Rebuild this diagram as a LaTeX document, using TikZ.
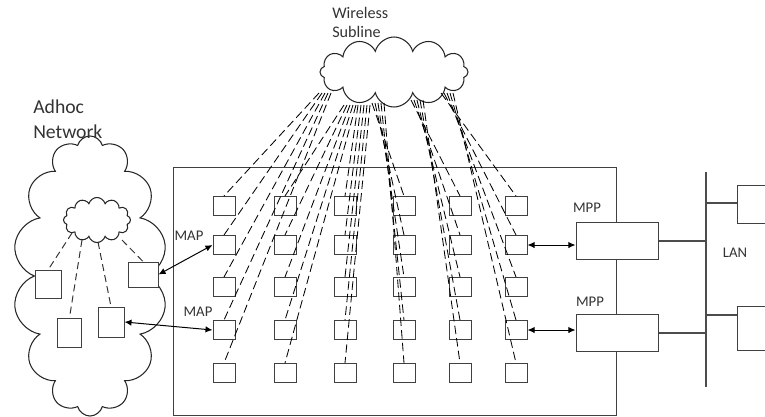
\documentclass[tikz,border=0pt]{standalone}
\usepackage{fontspec}
\setmainfont{Carlito}
\usetikzlibrary{shapes.symbols,positioning,arrows.meta}

\tikzset{
  frame/.style={draw=black!75, line width=0.7pt, inner sep=0pt},
  meshbox/.style={frame, minimum width=0.55cm, minimum height=0.475cm},
  hostbox/.style={frame, fill=white, minimum width=0.65cm, minimum height=0.7cm},
  gatebox/.style={frame, fill=white, minimum width=2.05cm, minimum height=0.925cm},
  netcloud/.style={draw=black!85, line width=0.75pt, cloud, cloud ignores aspect, inner sep=0pt},
  wave/.style={draw=black, line width=0.6pt, dash pattern=on 6pt off 3pt},
  hop/.style={draw=black!80, line width=0.7pt, dash pattern=on 5pt off 3pt},
  wire/.style={draw=black!70, line width=0.8pt},
  link/.style={draw=black, line width=0.7pt, {Latex[length=5pt,width=4.5pt]}-{Latex[length=5pt,width=4.5pt]}},
  tag/.style={text=black!80, font=\fontsize{10.5}{12}\selectfont, inner sep=0pt}
}

\begin{document}
\begin{tikzpicture}[x=0.025cm, y=-0.025cm]
\useasboundingbox (0,0) rectangle (765,416);
\clip (0,0) rectangle (765,416);

% ── Mesh area and its router grid ────────────────────────────
\node[frame, minimum width=11.05cm, minimum height=6.175cm] (mesh) at (395,291.5) {};

\foreach \c/\cx in {1/224, 2/285, 3/345, 4/404, 5/460, 6/516}
  \foreach \r/\ry in {1/206, 2/245, 3/287, 4/330, 5/373}
    \node[meshbox] (g-\c-\r) at (\cx,\ry) {};

% ── Wireless subline cloud and its links ─────────────────────
\node[netcloud, cloud puffs=12, minimum width=3.7cm, minimum height=1.75cm] (sky) at (394,72) {};
\node[anchor=north west, align=left, inner sep=0pt, text=black!80,
      font=\fontsize{11.5}{13.5}\selectfont] (skylbl) at (332,7) {Wireless\\Subline};

\foreach \c/\ox/\oy in {1/325/93, 2/350/105, 3/364/105, 4/378/103, 5/417/100, 6/447/93}
  \foreach \r in {1,...,5} {
    \coordinate (src-\c-\r) at ({\ox+(\r-3)*3},\oy);
    \draw[wave] (src-\c-\r) -- (g-\c-\r.north);
  }

% ── Adhoc network ────────────────────────────────────────────
\node[netcloud, cloud puffs=14, minimum width=3.85cm, minimum height=7.0cm] (adhoc) at (90,276) {};
\node[anchor=north west, align=left, inner sep=0pt, text=black!80,
      font=\fontsize{14}{17.5}\selectfont] (adhoclbl) at (33,100) {Adhoc\\Network};

\node[netcloud, cloud puffs=12, minimum width=1.675cm, minimum height=1.125cm] (core) at (97,220) {};

\node[hostbox] (ha) at (48,284.5) {};
\node[hostbox, minimum width=0.75cm, minimum height=0.625cm] (hb) at (143,274.5) {};
\node[hostbox, minimum width=0.6cm, minimum height=0.725cm] (hc) at (69.5,332.5) {};
\node[hostbox, minimum width=0.65cm, minimum height=0.75cm] (hd) at (111,322) {};

\coordinate (cp1) at (72,233);
\coordinate (cp2) at (82,240);
\coordinate (cp3) at (98,242);
\coordinate (cp4) at (122,240);
\draw[hop] (cp1) -- (ha.north);
\draw[hop] (cp2) -- (hc.north);
\draw[hop] (cp3) -- (hd.north);
\draw[hop] (cp4) -- (hb.north);

% ── Mesh access points ───────────────────────────────────────
\draw[link] (hb.east) -- (g-1-2.west);
\draw[link] (hd.east) -- (g-1-4.west);
\node[tag] (map1) at (189,236) {MAP};
\node[tag] (map2) at (198,312) {MAP};

% ── Portals and LAN ──────────────────────────────────────────
\node[gatebox] (mpp1) at (617,241) {};
\node[gatebox] (mpp2) at (617,333) {};
\node[tag] (mpp1lbl) at (587,208) {MPP};
\node[tag] (mpp2lbl) at (590,302) {MPP};

\draw[link] (g-6-2.east) -- (g-6-2.east -| mpp1.west);
\draw[link] (g-6-4.east) -- (g-6-4.east -| mpp2.west);

\coordinate (bus-top) at (706,172);
\coordinate (bus-bot) at (706,387);
\draw[wire] (bus-top) -- (bus-bot);
\node[tag] (lanlbl) at (735,253) {LAN};

\node[frame, minimum width=1.6cm, minimum height=0.95cm] (lan1) at (769,204) {};
\node[frame, minimum width=1.6cm, minimum height=1.1cm] (lan2) at (769,328) {};

\coordinate (tap1) at (706,203);
\coordinate (tap2) at (706,315);
\draw[wire] (tap1) -- (tap1 -| lan1.west);
\draw[wire] (tap2) -- (tap2 -| lan2.west);
\draw[wire] (mpp1.east) -- (mpp1.east -| bus-top);
\draw[wire] (mpp2.east) -- (mpp2.east -| bus-top);

\end{tikzpicture}
\end{document}
